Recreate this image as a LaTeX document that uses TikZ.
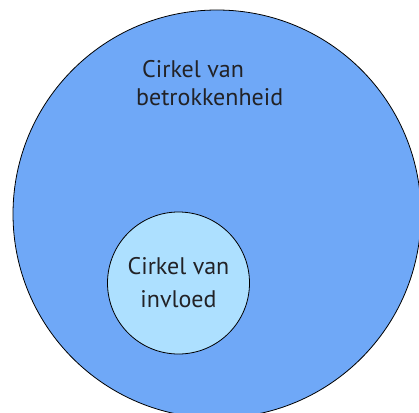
\documentclass[tikz,border=0pt]{standalone}
\usepackage{fontspec}
\setmainfont{PT Sans}
\usepackage{tikz}
\usetikzlibrary{positioning,shapes}

\definecolor{betrokkenblue}{RGB}{111,168,247}
\definecolor{invloedblue}{RGB}{173,224,255}
\definecolor{labelgray}{RGB}{34,34,38}

\begin{document}
\begin{tikzpicture}
[
	x	= 1pt,	% one unit is one pixel of the reference
	y	= -1pt,	% y runs downwards, as in the reference
	every node/.style = {text=labelgray, font=\fontsize{24}{28}\selectfont},
]

\useasboundingbox (0,0) rectangle (419,412);

\node [circle, draw=black, fill=betrokkenblue, line width=0.8pt, minimum size=408pt, inner sep=0pt] (betrokkenheid) at (217,214) {};
\node [align=left, anchor=base west, inner sep=0pt] (betrokkenheidtext) at (136,105) {\hspace{6pt}Cirkel van\\betrokkenheid};

\node [circle, draw=black, fill=invloedblue, line width=0.8pt, minimum size=142pt, inner sep=0pt, align=center, font=\fontsize{24}{33}\selectfont] (invloed) at (178.5,283) {Cirkel van\\invloed};

\end{tikzpicture}
\end{document}
